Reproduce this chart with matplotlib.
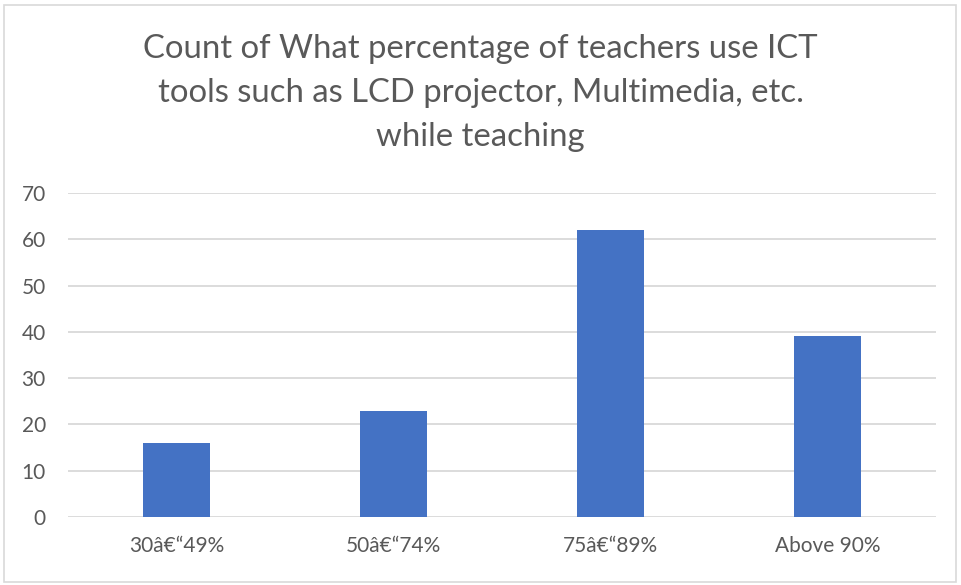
import matplotlib.pyplot as plt
from matplotlib.patches import Rectangle

categories = ['30â€“49%', '50â€“74%', '75â€“89%', 'Above 90%']
counts = [16, 23, 62, 39]
yticks = [0, 10, 20, 30, 40, 50, 60, 70]

title = ('Count of What percentage of teachers use ICT\n'
         'tools such as LCD projector, Multimedia, etc.\n'
         'while teaching')

plt.rcParams['font.family'] = ['Lato', 'DejaVu Sans']
text_color = '#595959'
grid_color = '#D9D9D9'

fig = plt.figure(figsize=(9.61, 5.85), dpi=100)
ax = fig.add_axes([68 / 961, 1 - 517 / 585, (936 - 68) / 961, (517 - 193) / 585])

x = range(len(categories))
ax.bar(x, counts, width=0.31, color='#4472C4', zorder=3)

ax.set_xlim(-0.5, len(categories) - 0.5)
ax.set_ylim(0, 70)
ax.set_yticks(yticks)
ax.set_xticks(list(x))
ax.set_xticklabels(categories)
ax.yaxis.grid(True, color=grid_color, linewidth=1.3, zorder=0)
ax.tick_params(axis='both', length=0, colors=text_color, labelsize=15)
ax.tick_params(axis='x', pad=14)
ax.tick_params(axis='y', pad=16)
for s in ax.spines.values():
    s.set_visible(False)

fig.text(0.5, 1 - 93 / 585, title, ha='center', va='center', fontsize=23.7,
         color=text_color, linespacing=1.58)

# chart border
fig.patches.append(Rectangle((4 / 961, 3 / 585), 952 / 961, 577 / 585,
                             transform=fig.transFigure, fill=False,
                             edgecolor='#D9D9D9', linewidth=1.2))

fig.savefig('out.png', dpi=100)
